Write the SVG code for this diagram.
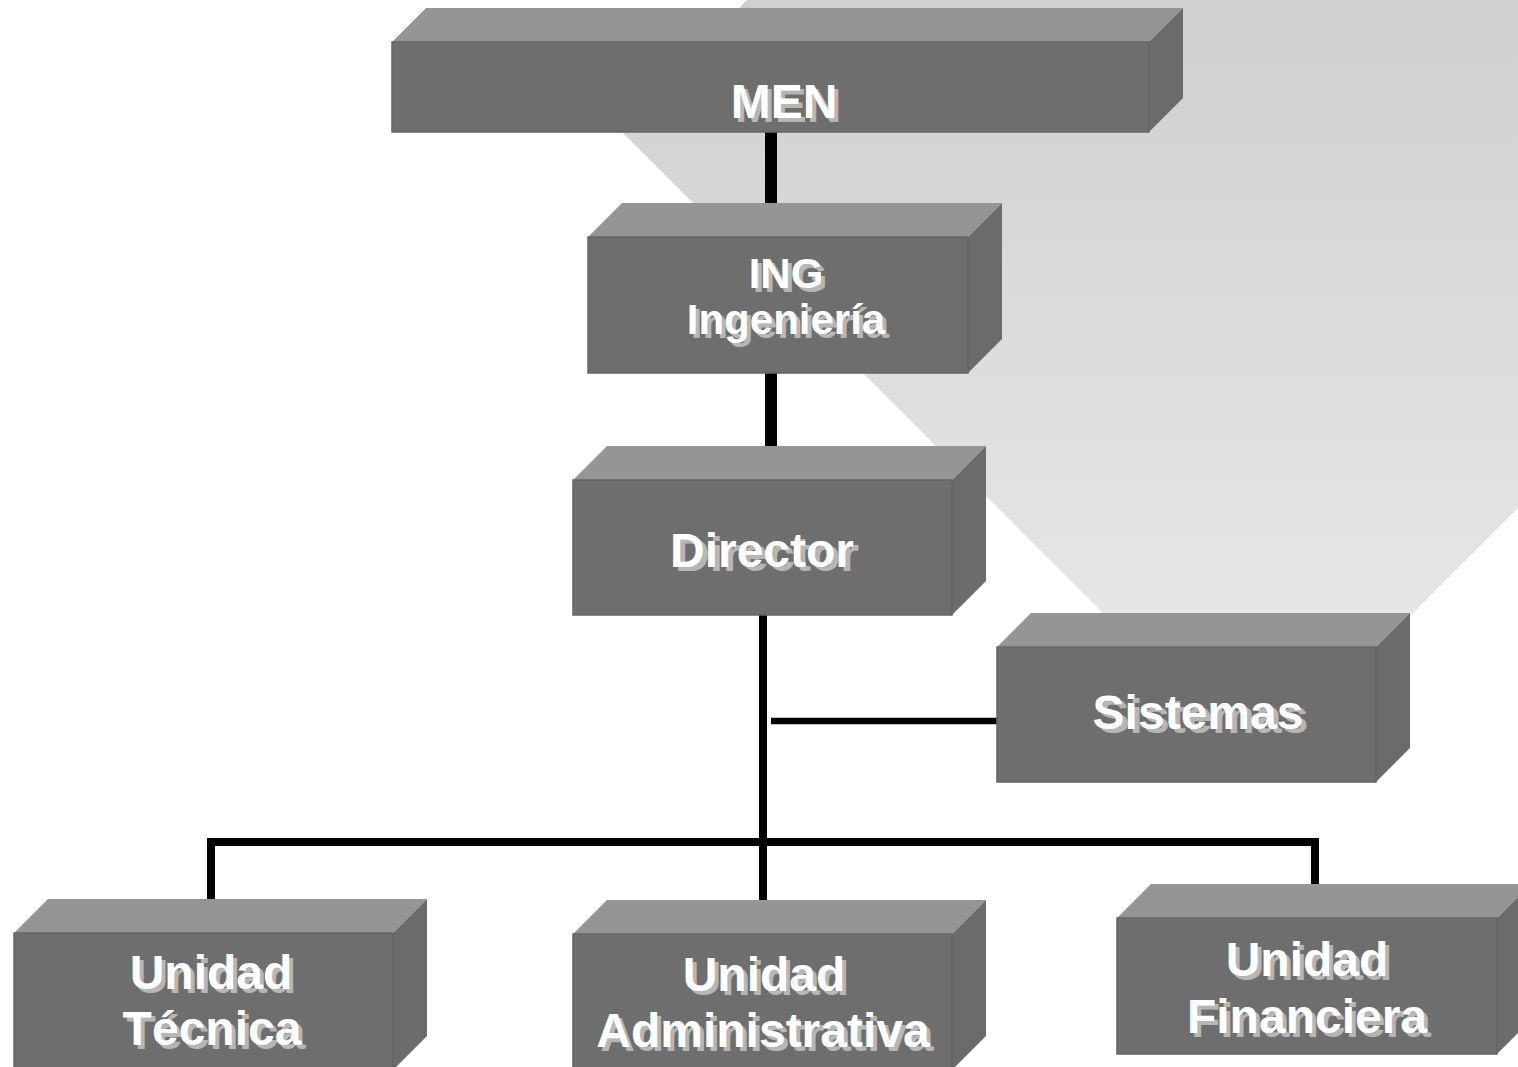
<svg xmlns="http://www.w3.org/2000/svg" width="1518" height="1067" viewBox="0 0 1518 1067">
<defs>
<linearGradient id="bg" gradientUnits="userSpaceOnUse" x1="0" y1="0" x2="0" y2="768">
<stop offset="0" stop-color="#cfcfcf"/>
<stop offset="1" stop-color="#ececec"/>
</linearGradient>
<style>
.front{fill:#6e6e6e;stroke:#656565;stroke-width:1.5}
.top{fill:#959595}
.side{fill:#6b6b6b}
.t{font-family:"Liberation Sans",Arial,sans-serif;font-weight:bold;font-size:48px;text-anchor:middle}
.s{font-size:42px}
.sh{fill:#b6b6b6}
.fg{fill:#ffffff}
.conn{fill:none;stroke:#000}
</style>
</defs>
<rect width="1518" height="1067" fill="#ffffff"/>
<polygon points="747,0 1518,0 1518,508 1258,768 618.5,128.5" fill="url(#bg)"/>

<g id="connectors">
<line class="conn" x1="771" y1="132" x2="771" y2="222" stroke-width="12"/>
<line class="conn" x1="771" y1="373" x2="771" y2="463" stroke-width="12"/>
<line class="conn" x1="763" y1="615" x2="763" y2="917" stroke-width="8"/>
<line class="conn" x1="771" y1="721" x2="997" y2="721" stroke-width="6.5"/>
<path class="conn" d="M211,917 V842 H1315 V917" stroke-width="8"/>
</g>

<g id="men">
<polygon class="top" points="392,42 426,8 1183,8 1149,42"/>
<polygon class="side" points="1149,42 1183,8 1183,98 1149,132"/>
<rect class="front" x="392" y="42" width="757" height="90"/>
<text class="t sh" x="788" y="122">MEN</text>
<text class="t fg" x="784" y="118">MEN</text>
</g>

<g id="ing">
<polygon class="top" points="588,237 622,203 1002,203 968,237"/>
<polygon class="side" points="968,237 1002,203 1002,339 968,373"/>
<rect class="front" x="588" y="237" width="380" height="136"/>
<text class="t s sh" x="790" y="292">ING</text>
<text class="t s fg" x="786" y="288">ING</text>
<text class="t s sh" x="790" y="338">Ingeniería</text>
<text class="t s fg" x="786" y="334">Ingeniería</text>
</g>

<g id="director">
<polygon class="top" points="573,480 607,446 986,446 952,480"/>
<polygon class="side" points="952,480 986,446 986,581 952,615"/>
<rect class="front" x="573" y="480" width="379" height="135"/>
<text class="t sh" x="767" y="571">Director</text>
<text class="t fg" x="762" y="567">Director</text>
</g>

<g id="sistemas">
<polygon class="top" points="997,647 1031,613 1410,613 1376,647"/>
<polygon class="side" points="1376,647 1410,613 1410,748 1376,782"/>
<rect class="front" x="997" y="647" width="379" height="135"/>
<text class="t sh" x="1203" y="733">Sistemas</text>
<text class="t fg" x="1198" y="729">Sistemas</text>
</g>

<g id="unidad-tecnica">
<polygon class="top" points="14,933 48,899 427,899 393,933"/>
<polygon class="side" points="393,933 427,899 427,1036 393,1070"/>
<rect class="front" x="14" y="933" width="379" height="140"/>
<text class="t sh" x="215" y="993">Unidad</text>
<text class="t fg" x="211" y="989">Unidad</text>
<text class="t sh" x="216" y="1049">Técnica</text>
<text class="t fg" x="212" y="1045">Técnica</text>
</g>

<g id="unidad-administrativa">
<polygon class="top" points="573,934 607,900 986,900 952,934"/>
<polygon class="side" points="952,934 986,900 986,1036 952,1070"/>
<rect class="front" x="573" y="934" width="379" height="140"/>
<text class="t sh" x="768" y="995">Unidad</text>
<text class="t fg" x="764" y="991">Unidad</text>
<text class="t sh" x="767" y="1051">Administrativa</text>
<text class="t fg" x="763" y="1047">Administrativa</text>
</g>

<g id="unidad-financiera">
<polygon class="top" points="1117,918 1151,884 1531,884 1497,918"/>
<polygon class="side" points="1497,918 1531,884 1531,1020 1497,1054"/>
<rect class="front" x="1117" y="918" width="380" height="136"/>
<text class="t sh" x="1311" y="980">Unidad</text>
<text class="t fg" x="1307" y="976">Unidad</text>
<text class="t sh" x="1311" y="1037">Financiera</text>
<text class="t fg" x="1307" y="1033">Financiera</text>
</g>
</svg>
